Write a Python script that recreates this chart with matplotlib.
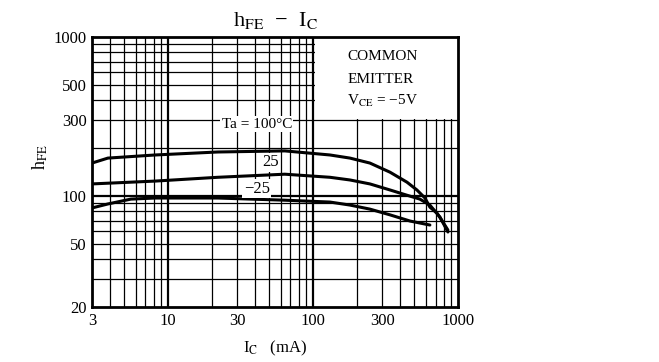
import matplotlib
matplotlib.use("Agg")
import matplotlib.pyplot as plt
from matplotlib.patches import Rectangle

plt.rcParams['font.family'] = ['Liberation Serif', 'DejaVu Serif']
plt.rcParams['mathtext.fontset'] = 'stix'

# hFE vs IC, common emitter, VCE = -5V
ic_100 = [3, 3.86, 8.18, 22.1, 64, 131, 180, 247, 340, 445, 521, 592, 640, 716, 787, 852]
hfe_100 = [161, 173, 181, 189, 192, 181, 173, 161, 141, 122, 109, 97, 85, 78, 68.5, 61]

ic_25 = [3, 8.18, 22.1, 64, 131, 180, 247, 340, 445, 546, 640, 751, 852]
hfe_25 = [119, 124, 131, 137, 131, 126, 119, 109, 101, 95.5, 87.6, 73.6, 59.3]

ic_m25 = [3, 3.86, 5.56, 8.18, 22.1, 64, 131, 180, 247, 340, 467, 640]
hfe_m25 = [84, 89, 95.5, 97, 97, 94, 91.5, 87.6, 82.6, 76, 69.5, 65.6]

x_ticks = [3, 10, 30, 100, 300, 1000]
y_ticks = [20, 50, 100, 300, 500, 1000]

fig = plt.figure(figsize=(6.59, 3.62), dpi=100)
ax = fig.add_axes([0.1396, 0.1519, 0.5554, 0.7459])
ax.set_xscale('log')
ax.set_yscale('log')
ax.set_xlim(3, 1000)
ax.set_ylim(20, 1000)

# grid lines, heavier on decades
for dec in [1, 10, 100]:
    for m in range(1, 10):
        v = dec * m
        if 3 < v < 1000:
            ax.axvline(v, color='black', lw=1.6 if m == 1 else 0.9, zorder=1)
for dec in [10, 100]:
    for m in range(1, 10):
        v = dec * m
        if 20 < v < 1000:
            ax.axhline(v, color='black', lw=1.6 if m == 1 else 0.9, zorder=1)

# blank panel for the conditions text
ax.add_patch(Rectangle((104, 303), 1000 - 104, 1000 - 303, facecolor='white',
                       edgecolor='none', zorder=2))

for xs, ys in [(ic_100, hfe_100), (ic_25, hfe_25), (ic_m25, hfe_m25)]:
    ax.plot(xs, ys, color='black', lw=2.2, zorder=3,
            solid_joinstyle='round', solid_capstyle='round')

ax.text(41, 283, 'Ta = 100°C', fontsize=11, ha='center', va='center', zorder=4,
        bbox=dict(facecolor='white', edgecolor='none', pad=1))
ax.text(51, 163, '25', fontsize=12, ha='center', va='center', zorder=4,
        bbox=dict(facecolor='white', edgecolor='none', pad=1))
ax.text(41, 111, '−25', fontsize=12, ha='center', va='center', zorder=4,
        bbox=dict(facecolor='white', edgecolor='none', pad=1))

ax.text(0.697, 0.926, 'COMMON', transform=ax.transAxes, fontsize=11, ha='left', va='center', zorder=4)
ax.text(0.697, 0.844, 'EMITTER', transform=ax.transAxes, fontsize=11, ha='left', va='center', zorder=4)
ax.text(0.697, 0.763, r'V$_{\rm CE}$ = −5V', transform=ax.transAxes, fontsize=11, ha='left', va='center', zorder=4)

ax.set_xticks(x_ticks)
ax.set_xticklabels([str(t) for t in x_ticks])
ax.set_yticks(y_ticks)
ax.set_yticklabels([str(t) for t in y_ticks])
ax.minorticks_off()
ax.tick_params(labelsize=12, length=0, pad=4)

for s in ax.spines.values():
    s.set_linewidth(2)
    s.set_zorder(5)

ax.set_title(r'h$_{\rm FE}$  −  I$_{\rm C}$', fontsize=16, pad=8)
ax.set_xlabel(r'I$_{\rm C}$   (mA)', fontsize=12, labelpad=7)
ax.set_ylabel(r'h$_{\rm FE}$', fontsize=13)
ax.yaxis.set_label_coords(-0.115, 0.556)

fig.savefig('out.png', dpi=100)
